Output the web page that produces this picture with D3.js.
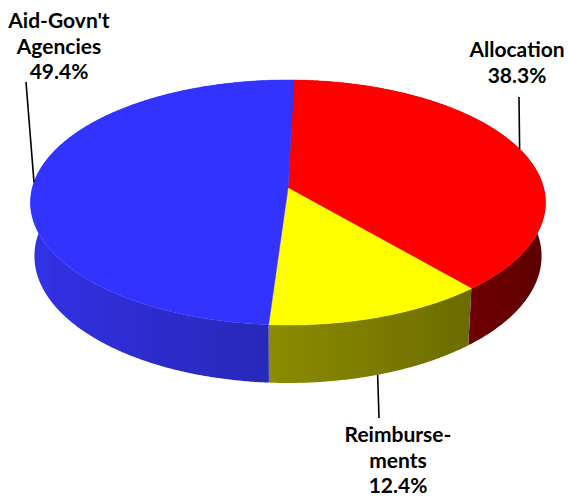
<!DOCTYPE html>
<html>
<head>
<meta charset="utf-8">
<script src="https://cdn.jsdelivr.net/npm/d3@7"></script>
<style>
  body { margin: 0; background: #ffffff; }
  svg { display: block; }
  .lbl { font-family: Lato, "Open Sans", sans-serif; font-weight: 700; font-size: 21px; fill: #000; }
</style>
</head>
<body>
<svg id="chart" width="569" height="497"></svg>
<script>
// Slice data, clockwise from the top of the disk
const categories = ["Allocation", "Reimbursements", "Aid-Govn't Agencies"];
const values = [38.3, 12.4, 49.4];
const labelNames = [["Allocation"], ["Reimburse-", "ments"], ["Aid-Govn't", "Agencies"]];
const topColors = ["#ff0000", "#ffff00", "#3333ff"];
// side wall shading: [colour, sin(angle)] at two ends, interpolated between
const sideShades = [
  [["#6e0000", 0.64], ["#5c0000", 1.0]],
  [["#8c8c00", -0.07], ["#6c6c00", 0.64]],
  [["#3232e8", -1.0], ["#2828b9", -0.07]]
];
// label anchor (text centre x, first baseline y) and leader end point
const labelAnchors = [[517, 57], [398, 442], [59, 28]];
const leaderEnds = [[519, 97], [379, 418], [26, 82]];

const W = 569, H = 497;
const svg = d3.select("#chart");
const defs = svg.append("defs");

// perspective camera for the tilted disk (unit radius)
const cx = 288, cy = 188, focal = 1904, camDist = 7.447;
const tilt = Math.asin(0.4724);
const sinA = Math.sin(tilt), cosA = Math.cos(tilt);
const thick = 0.24;

function project(theta, z) {
  const x = Math.sin(theta), y = Math.cos(theta);
  const dist = camDist + y * cosA - z * sinA;
  const u = y * sinA + z * cosA;
  return [cx + focal * x / dist, cy - focal * u / dist];
}
function projectCenter(z) {
  const dist = camDist - z * sinA;
  return [cx, cy - focal * (z * cosA) / dist];
}

const startAngle = 1.5 * Math.PI / 180;
const pie = d3.pie().sort(null).value(d => d)
  .startAngle(startAngle).endAngle(startAngle + 2 * Math.PI);
const arcs = pie(values);

const line = d3.line();
const step = 0.4 * Math.PI / 180;

function sideColor(i, theta) {
  const [[cA, sA], [cB, sB]] = sideShades[i];
  const t = Math.max(0, Math.min(1, (Math.sin(theta) - sA) / (sB - sA)));
  return d3.interpolateRgb(cA, cB)(t);
}

function angles(a) {
  const n = Math.max(2, Math.ceil((a.endAngle - a.startAngle) / step));
  return d3.range(n + 1).map(k => a.startAngle + (a.endAngle - a.startAngle) * k / n);
}

// side walls: one band per slice, shaded along screen x by a gradient
arcs.forEach((a, i) => {
  const ts = angles(a);
  const front = ts.filter(t => Math.cos(t) < 0.3);
  const xs = front.map(t => project(t, 0)[0]);
  const x0 = d3.min(xs), x1 = d3.max(xs);
  const grad = defs.append("linearGradient")
    .attr("id", "side" + i)
    .attr("gradientUnits", "userSpaceOnUse")
    .attr("x1", x0).attr("x2", x1 > x0 ? x1 : x0 + 1)
    .attr("y1", 0).attr("y2", 0);
  const stops = front.map(t => ({ x: project(t, 0)[0], c: sideColor(i, t) }))
    .sort((p, q) => p.x - q.x);
  grad.selectAll("stop").data(stops.filter((s, k) => k % 8 === 0 || k === stops.length - 1))
    .join("stop")
    .attr("offset", s => (x1 > x0 ? (s.x - x0) / (x1 - x0) : 0))
    .attr("stop-color", s => s.c);
});

svg.append("g").attr("class", "sides")
  .selectAll("path").data(arcs).join("path")
  .attr("d", a => {
    const ts = angles(a);
    const pts = ts.map(t => project(t, 0))
      .concat(ts.slice().reverse().map(t => project(t, -thick)));
    return line(pts) + "Z";
  })
  .attr("fill", (a, i) => `url(#side${i})`);

// top face slices
svg.append("g").attr("class", "top")
  .selectAll("path").data(arcs).join("path")
  .attr("d", a => line([projectCenter(0)].concat(angles(a).map(t => project(t, 0)))) + "Z")
  .attr("fill", (a, i) => topColors[i])
  .attr("stroke", (a, i) => topColors[i])
  .attr("stroke-width", 0.5);

// leader lines from the rim at each slice's mid angle
svg.append("g").attr("class", "leaders")
  .selectAll("line").data(arcs).join("line")
  .each(function (a, i) {
    const mid = (a.startAngle + a.endAngle) / 2;
    const z = Math.cos(mid) < -0.5 ? -thick : 0;
    const p = project(mid, z);
    d3.select(this)
      .attr("x1", p[0]).attr("y1", p[1])
      .attr("x2", leaderEnds[i][0]).attr("y2", leaderEnds[i][1]);
  })
  .attr("stroke", "#000")
  .attr("stroke-width", 1.6);

// labels: name lines followed by the percentage
const lineGap = 25.5;
const fmt = d3.format(".1f");
svg.append("g").attr("class", "labels")
  .selectAll("text").data(arcs).join("text")
  .attr("class", "lbl")
  .attr("text-anchor", "middle")
  .each(function (a, i) {
    const t = d3.select(this);
    const [x, y] = labelAnchors[i];
    const lines = labelNames[i].concat([fmt(values[i]) + "%"]);
    lines.forEach((s, k) => {
      t.append("tspan").attr("x", x).attr("y", y + k * lineGap).text(s);
    });
  });
</script>
</body>
</html>
